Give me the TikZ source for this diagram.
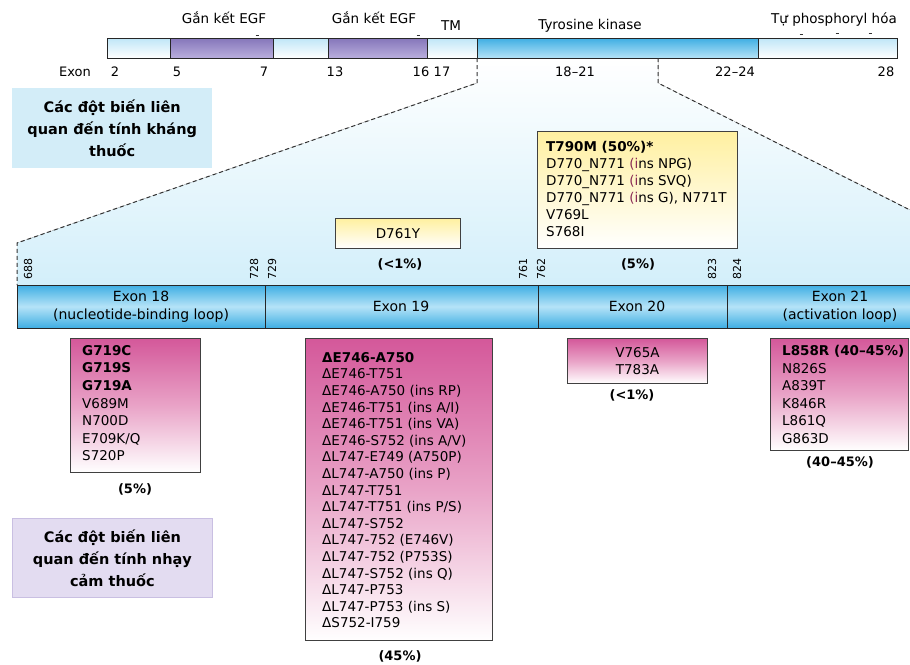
\documentclass[tikz,border=0pt]{standalone}
\usepackage{fontspec}
\setmainfont{DejaVu Sans}
\usetikzlibrary{calc}
\definecolor{lightseg}{HTML}{BFE6F7}
\definecolor{purpseg}{HTML}{8576BA}
\definecolor{purpseglt}{HTML}{B9AEDD}
\definecolor{blueseg}{HTML}{3EAEE3}
\definecolor{bluesegl}{HTML}{B5E3F7}
\definecolor{bgblue}{HTML}{D3EFFA}
\definecolor{pinktop}{HTML}{D4589A}
\definecolor{pinkmid}{HTML}{E9A3C7}
\definecolor{yelltop}{HTML}{FFF0A0}
\definecolor{infoblue}{HTML}{D3EDF8}
\definecolor{infolav}{HTML}{E3DCF1}
\definecolor{infolavb}{HTML}{C9BFE2}
\definecolor{insc}{HTML}{8A2B55}
\tikzset{
  seglight/.style={draw=black!85, line width=0.8pt, top color=lightseg, bottom color=white},
  segpurp/.style={draw=black!85, line width=0.8pt, top color=purpseg, bottom color=purpseglt},
  segblue/.style={draw=black!85, line width=0.8pt, top color=blueseg, bottom color=bluesegl},
  exonbar/.style={top color=blueseg, bottom color=blueseg, middle color=bluesegl},
  dashln/.style={line width=1pt, draw=black!80, dash pattern=on 4pt off 3pt},
  mutbox/.style={draw=black!75, line width=1pt, top color=pinktop, bottom color=white, middle color=pinkmid, anchor=north west, inner sep=0pt},
  yelbox/.style={draw=black!75, line width=1pt, top color=yelltop, bottom color=white, anchor=north west, inner sep=0pt},
  toplbl/.style={font=\fontsize{13.5}{16}\selectfont, inner sep=0pt},
  exlbl/.style={font=\fontsize{13}{16}\selectfont, inner sep=0pt},
  barlbl/.style={font=\fontsize{14}{18}\selectfont, inner sep=0pt, align=center},
  boxtxt/.style={font=\fontsize{13.5}{#1}\selectfont, inner sep=0pt, align=left, anchor=north west},
  pct/.style={font=\bfseries\fontsize{13}{15}\selectfont, inner sep=0pt},
  posnum/.style={font=\fontsize{11}{12}\selectfont, rotate=90, inner sep=0pt},
  infobox/.style={font=\bfseries\fontsize{14.5}{22}\selectfont, align=center, minimum width=200pt, anchor=north west, inner sep=0pt},
}
\begin{document}
\begin{tikzpicture}[x=1pt,y=-1pt]
\useasboundingbox (0,0) rectangle (910,664);
% background wedge
\fill[top color=white, bottom color=bgblue] (477,58) -- (477,83) -- (17,243) -- (17,285) -- (912,285) -- (912,211) -- (658,83) -- (658,58) -- cycle;
% top bar
\path[seglight] (107,38) rectangle (170,58);
\path[segpurp] (170,38) rectangle (273,58);
\path[seglight] (273,38) rectangle (328,58);
\path[segpurp] (328,38) rectangle (427,58);
\path[seglight] (427,38) rectangle (477,58);
\path[segblue] (477,38) rectangle (758,58);
\path[seglight] (758,38) rectangle (897,58);
% small marks
\foreach \xx/\yy in {257/35, 418/35, 801/34, 837/33, 870/33}
  \draw[black!80, line width=1pt] (\xx-1.5,\yy) -- (\xx+1.5,\yy);
% top labels
\node[toplbl] (egf1) at (224,18) {Gắn kết EGF};
\node[toplbl] (egf2) at (374,18) {Gắn kết EGF};
\node[toplbl] (tm) at (451,26) {TM};
\node[toplbl] (tk) at (590,26) {Tyrosine kinase};
\node[toplbl] (auto) at (834,20) {Tự phosphoryl hóa};
% exon numbers
\node[exlbl] (ex) at (75,72) {Exon};
\node[exlbl] (e2) at (115,72) {2};
\node[exlbl] (e5) at (177,72) {5};
\node[exlbl] (e7) at (264,72) {7};
\node[exlbl] (e13) at (335,72) {13};
\node[exlbl] (e16) at (421,72) {16};
\node[exlbl] (e17) at (442,72) {17};
\node[exlbl] (e1821) at (575,72) {18–21};
\node[exlbl] (e2224) at (735,72) {22–24};
\node[exlbl] (e28) at (886,72) {28};
% dashed connectors
\coordinate (la) at (477,58);
\coordinate (lb) at (477,83);
\coordinate (lc) at (17,243);
\coordinate (ld) at (17,285);
\coordinate (ra) at (658,58);
\coordinate (rb) at (658,83);
\coordinate (rc) at (912,211);
\draw[dashln] (la) -- (lb) -- (lc) -- (ld);
\draw[dashln] (ra) -- (rb) -- (rc);
% info boxes
\node[infobox, fill=infoblue, minimum height=80pt] (info1) at (12,88) {Các đột biến liên\\quan đến tính kháng\\thuốc};
\node[infobox, fill=infolav, draw=infolavb, line width=0.8pt, minimum height=79pt] (info2) at (12,518) {Các đột biến liên\\quan đến tính nhạy\\cảm thuốc};
% resistance boxes
\node[yelbox, minimum width=125pt, minimum height=30pt, font=\fontsize{13.5}{16}\selectfont] (d761) at (335,218) {D761Y};
\node[pct] (p1) at (400,264) {(<1\%)};
\node[yelbox, minimum width=200pt, minimum height=117pt] (t790) at (537,131) {};
\node[boxtxt=17] (t790t) at (546,141.5)
 {\textbf{T790M (50\%)*}\\D770\_N771 {\color{insc}(i}ns NPG)\\D770\_N771 {\color{insc}(i}ns SVQ)\\D770\_N771 {\color{insc}(i}ns G), N771T\\V769L\\S768I};
\node[pct] (p2) at (638,264) {(5\%)};
% positions
\node[posnum] (n688) at (28,269) {688};
\node[posnum] (n728) at (254,269) {728};
\node[posnum] (n729) at (272,269) {729};
\node[posnum] (n761) at (523,269) {761};
\node[posnum] (n762) at (541,269) {762};
\node[posnum] (n823) at (712,269) {823};
\node[posnum] (n824) at (737,269) {824};
% exon bar
\fill[exonbar] (17,285) rectangle (912,328);
\draw[black!85, line width=1pt] (912,285) -- (17,285) -- (17,328) -- (912,328);
\draw[black!85, line width=1pt] (265,285) -- (265,328);
\draw[black!85, line width=1pt] (538,285) -- (538,328);
\draw[black!85, line width=1pt] (727,285) -- (727,328);
\node[barlbl] (x18) at (141,307) {Exon 18\\(nucleotide-binding loop)};
\node[barlbl] (x19) at (401,306) {Exon 19};
\node[barlbl] (x20) at (637,306) {Exon 20};
\node[barlbl] (x21) at (840,307) {Exon 21\\(activation loop)};
% sensitivity boxes
\node[mutbox, minimum width=130pt, minimum height=134pt] (g719) at (70,338) {};
\node[boxtxt=17.6] (g719t) at (82,345)
 {\textbf{G719C}\\\textbf{G719S}\\\textbf{G719A}\\V689M\\N700D\\E709K/Q\\S720P};
\node[pct] (p3) at (135,489) {(5\%)};
\node[mutbox, minimum width=187pt, minimum height=302pt] (del) at (305,338) {};
\node[boxtxt=16.6] (delt) at (322,352)
 {\textbf{ΔE746-A750}\\ΔE746-T751\\ΔE746-A750 (ins RP)\\ΔE746-T751 (ins A/I)\\ΔE746-T751 (ins VA)\\ΔE746-S752 (ins A/V)\\ΔL747-E749 (A750P)\\ΔL747-A750 (ins P)\\ΔL747-T751\\ΔL747-T751 (ins P/S)\\ΔL747-S752\\ΔL747-752 (E746V)\\ΔL747-752 (P753S)\\ΔL747-S752 (ins Q)\\ΔL747-P753\\ΔL747-P753 (ins S)\\ΔS752-I759};
\node[pct] (p4) at (400,656) {(45\%)};
\node[mutbox, minimum width=140pt, minimum height=45pt, font=\fontsize{13.5}{17}\selectfont, align=center] (v765) at (567,338) {V765A\\T783A};
\node[pct] (p5) at (632,395) {(<1\%)};
\node[mutbox, minimum width=138pt, minimum height=112pt] (l858) at (770,338) {};
\node[boxtxt=17.6] (l858t) at (782,345)
 {\textbf{L858R (40–45\%)}\\N826S\\A839T\\K846R\\L861Q\\G863D};
\node[pct] (p6) at (840,462) {(40–45\%)};
\end{tikzpicture}
\end{document}
